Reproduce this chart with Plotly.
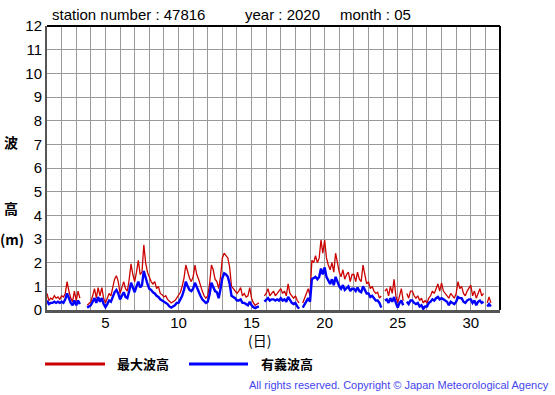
import plotly.graph_objects as go

# time axis: 8 samples per day (3-hourly), day 1.000 .. 31.875
steps_per_day = 8
days = list(range(1, 32))

# 最大波高 (max wave height, m) — one row per day
max_wave = [
    0.7, 0.4, 0.5, 0.45, 0.6, 0.5, 0.55, 0.45,      # 1
    0.6, 0.55, 0.7, 1.2, 0.8, 0.5, 0.35, 0.8,       # 2
    0.4, 0.8, 0.5, None, None, None, 0.2, 0.3,      # 3
    0.35, 0.6, 0.9, 0.5, 0.95, 0.6, 0.95, 0.5,      # 4
    0.3, 0.5, 0.7, 0.6, 0.9, 1.3, 1.45, 1.2,        # 5
    0.7, 1.0, 1.2, 0.9, 0.8, 1.3, 1.95, 1.5,        # 6
    1.2, 1.6, 2.1, 1.5, 1.6, 2.75, 2.0, 1.6,        # 7
    1.4, 1.2, 1.1, 1.2, 0.9, 1.0, 0.7, 0.65,        # 8
    0.55, 0.6, 0.45, 0.35, 0.3, 0.35, 0.4, 0.5,     # 9
    0.6, 0.75, 1.0, 1.35, 1.9, 1.6, 1.35, 1.2,      # 10
    1.4, 1.9, 1.5, 1.3, 1.0, 0.8, 0.6, 0.5,         # 11
    0.6, 1.1, 1.9, 1.7, 1.3, 1.2, 0.9, 1.4,         # 12
    2.2, 2.4, 2.3, 2.2, 1.8, 1.0, 0.9, 0.8,         # 13
    0.7, 0.8, 0.95, 0.6, 0.7, 0.55, 0.6, 0.95,      # 14
    0.5, 0.3, 0.2, 0.25, 0.3, None, None, 0.6,      # 15
    0.7, 0.9, 0.6, 0.7, 0.8, 0.6, 0.7, 0.75,        # 16
    0.9, 0.7, 0.8, 0.6, 1.1, 0.7, 0.6, 0.5,         # 17
    0.6, 0.4, 0.3, None, 0.3, 0.5, 0.7, 0.9,        # 18
    0.6, 2.1, 2.0, 2.3, 2.0, 2.2, 2.95, 2.4,        # 19
    2.95, 2.2, 1.9, 1.7, 2.0, 1.6, 2.4, 1.9,        # 20
    1.6, 1.4, 1.7, 1.3, 1.5, 1.6, 1.2, 1.5,         # 21
    1.5, 1.2, 1.6, 1.3, 1.2, 1.9, 1.4, 1.1,         # 22
    1.2, 0.9, 1.0, 0.8, 0.7, 0.75, 0.5, 0.6,        # 23
    None, 0.8, 0.9, 0.6, 1.0, 0.7, 1.3, 0.6,        # 24
    0.3, 0.6, 0.9, 0.4, None, 0.7, 0.5, 0.8,        # 25
    0.8, 0.6, 0.5, 0.6, 0.4, 0.5, 0.3, 0.4,         # 26
    0.3, 0.5, 0.6, 0.8, 0.7, 0.9, 1.1, 0.8,         # 27
    1.15, 0.8, 0.7, 0.6, 0.5, 0.7, 0.6, 0.5,        # 28
    0.7, 1.2, 0.9, 1.0, 0.7, 0.6, 0.8, 0.95,        # 29
    1.05, 0.6, 0.8, 0.5, 0.7, 0.9, 0.6, 0.7,        # 30
    None, 0.3, 0.55, 0.3, None, 0.2, None, None,    # 31
]

# 有義波高 (significant wave height, m)
sig_wave = [
    0.4, 0.25, 0.3, 0.3, 0.35, 0.3, 0.35, 0.3,      # 1
    0.35, 0.3, 0.45, 0.7, 0.5, 0.3, 0.2, 0.4,       # 2
    0.2, 0.4, 0.25, None, None, None, 0.1, 0.15,    # 3
    0.2, 0.35, 0.5, 0.3, 0.55, 0.35, 0.5, 0.25,     # 4
    0.12, 0.25, 0.4, 0.35, 0.55, 0.75, 0.85, 0.7,   # 5
    0.45, 0.6, 0.75, 0.55, 0.5, 0.8, 1.15, 0.95,    # 6
    0.75, 1.0, 1.2, 0.95, 1.05, 1.65, 1.35, 1.1,    # 7
    0.9, 0.85, 0.75, 0.7, 0.6, 0.55, 0.45, 0.4,     # 8
    0.35, 0.3, 0.25, 0.15, 0.1, 0.15, 0.2, 0.3,     # 9
    0.3, 0.45, 0.6, 0.85, 1.2, 1.0, 0.85, 0.8,      # 10
    0.9, 1.15, 0.95, 0.8, 0.6, 0.45, 0.35, 0.3,     # 11
    0.35, 0.65, 1.15, 1.0, 0.8, 0.75, 0.5, 0.9,     # 12
    1.35, 1.55, 1.5, 1.4, 1.1, 0.6, 0.55, 0.5,      # 13
    0.4, 0.4, 0.45, 0.3, 0.3, 0.25, 0.2, 0.35,      # 14
    0.2, 0.12, 0.08, 0.12, 0.15, None, None, 0.35,  # 15
    0.45, 0.5, 0.4, 0.45, 0.45, 0.4, 0.45, 0.4,     # 16
    0.5, 0.4, 0.45, 0.35, 0.55, 0.4, 0.3, 0.25,     # 17
    0.3, 0.15, 0.05, None, 0.1, 0.25, 0.35, 0.5,    # 18
    0.35, 1.3, 1.35, 1.4, 1.3, 1.4, 1.75, 1.5,      # 19
    1.8, 1.4, 1.25, 1.1, 1.3, 1.05, 1.4, 1.2,       # 20
    1.0, 0.9, 1.05, 0.85, 0.95, 1.0, 0.8, 0.9,      # 21
    0.9, 0.8, 0.95, 0.8, 0.75, 1.0, 0.85, 0.7,      # 22
    0.7, 0.55, 0.6, 0.5, 0.4, 0.4, 0.3, 0.1,        # 23
    None, 0.4, 0.45, 0.3, 0.5, 0.35, 0.55, 0.3,     # 24
    0.1, 0.3, 0.4, 0.2, None, 0.35, 0.25, 0.4,      # 25
    0.4, 0.3, 0.25, 0.3, 0.15, 0.2, 0.05, 0.15,     # 26
    0.15, 0.3, 0.35, 0.45, 0.4, 0.5, 0.55, 0.45,    # 27
    0.5, 0.45, 0.4, 0.35, 0.2, 0.35, 0.3, 0.25,     # 28
    0.35, 0.55, 0.5, 0.5, 0.35, 0.3, 0.4, 0.45,     # 29
    0.45, 0.3, 0.4, 0.2, 0.35, 0.4, 0.3, 0.35,      # 30
    None, 0.15, 0.25, 0.15, None, 0.1, None, None,  # 31
]

x_tick_days = list(range(1, 33))
x_tick_labels = [str(d) if d % 5 == 0 else "" for d in x_tick_days]
y_ticks = list(range(0, 13))

title_station = "station number : 47816"
title_year = "year : 2020"
title_month = "month : 05"
legend_names = ["最大波高", "有義波高"]
colors = ["#cc0000", "#0000ff"]

t = [d + i / steps_per_day for d in days for i in range(steps_per_day)]

W, H = 555, 395
L, R, T, B = 47, 500, 26, 310


def px(xp):
    return (xp - L) / (R - L)


def py(yp):
    return (B - yp) / (B - T)


fig = go.Figure()
fig.add_trace(go.Scatter(x=t, y=max_wave, mode="lines", name=legend_names[0],
                         line=dict(color=colors[0], width=1.3), connectgaps=False,
                         showlegend=False))
fig.add_trace(go.Scatter(x=t, y=sig_wave, mode="lines", name=legend_names[1],
                         line=dict(color=colors[1], width=2.4), connectgaps=False,
                         showlegend=False))

font_main = "Liberation Sans, Arial, sans-serif"
font_cjk = "Noto Sans CJK JP, sans-serif"

fig.update_layout(
    width=W, height=H,
    margin=dict(l=L, r=W - R, t=T, b=H - B, pad=0),
    paper_bgcolor="white", plot_bgcolor="white",
    xaxis=dict(range=[1, 32], tickvals=x_tick_days, ticktext=x_tick_labels,
               showgrid=True, gridcolor="#9a9a9a", gridwidth=1,
               showline=True, linecolor="#555555", linewidth=3,
               ticks="", zeroline=False, ticklabelstandoff=-3,
               tickfont=dict(family=font_main, size=15, color="black")),
    yaxis=dict(range=[0, 12], tickvals=y_ticks,
               showgrid=True, gridcolor="#9a9a9a", gridwidth=1,
               showline=True, linecolor="#555555", linewidth=2,
               ticks="", zeroline=False,
               tickfont=dict(family=font_main, size=15, color="black")),
    showlegend=False,
)

# top & right borders
fig.add_shape(type="line", xref="paper", yref="paper", x0=0, x1=1, y0=1, y1=1,
              line=dict(color="black", width=2))
fig.add_shape(type="line", xref="paper", yref="paper", x0=1, x1=1, y0=0, y1=1,
              line=dict(color="black", width=2))


def add_text(text, x, y, size, color="black", family=font_main, xanchor="left"):
    fig.add_annotation(text=text, xref="paper", yref="paper", x=px(x), y=py(y),
                       xanchor=xanchor, yanchor="middle", showarrow=False,
                       font=dict(family=family, size=size, color=color))


add_text(title_station, 50, 14, 15)
add_text(title_year, 243, 14, 15)
add_text(title_month, 338, 14, 15)

add_text("<b>波</b>", 11, 142, 14, family=font_cjk, xanchor="center")
add_text("<b>高</b>", 11, 208, 14, family=font_cjk, xanchor="center")
add_text("<b>(m)</b>", 12, 239, 14, family=font_cjk, xanchor="center")
add_text("(日)", 259, 340, 14, family=font_cjk, xanchor="center")

# legend
for (x0, x1, tx), name, c in zip([(45, 105, 115), (189, 248, 259)], legend_names, colors):
    fig.add_shape(type="line", xref="paper", yref="paper", x0=px(x0), x1=px(x1),
                  y0=py(364), y1=py(364), line=dict(color=c, width=3))
    add_text("<b>" + name + "</b>", tx, 363, 13, family=font_cjk)

add_text("All rights reserved. Copyright © Japan Meteorological Agency", 551, 385, 11,
         color="#4444ee", xanchor="right")

fig.write_html("out.html", config={"displayModeBar": False},
               post_script="document.body.style.margin='0';")
